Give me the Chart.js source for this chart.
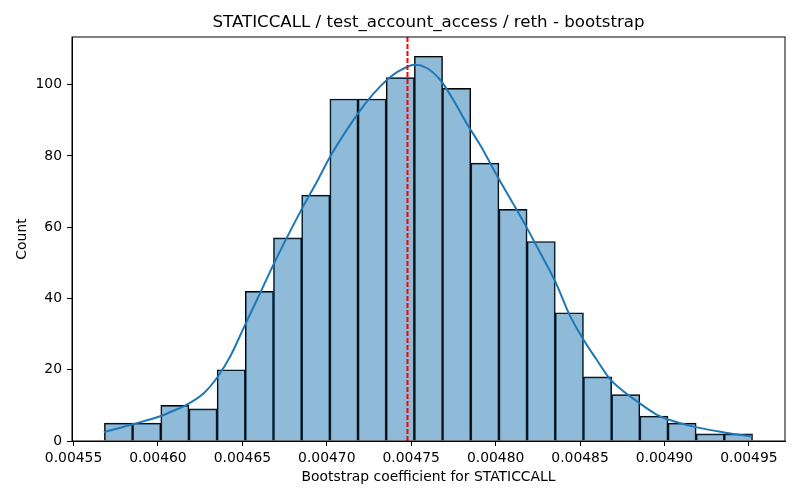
<!DOCTYPE html>
<html>
<head>
<meta charset="utf-8">
<script src="https://cdn.jsdelivr.net/npm/chart.js@4"></script>
<style>
  html, body { margin: 0; padding: 0; background: #fff; }
  #wrap { width: 800px; height: 500px; }
</style>
</head>
<body>
<div id="wrap"><canvas id="myChart"></canvas></div>
<script>
// histogram bins (left edge of first bin + bin width) and counts
const binStart = 0.0045683;
const binWidth = 0.00001669;
const counts = [5, 5, 10, 9, 20, 42, 57, 69, 96, 96, 102, 108, 99, 78, 65, 56, 36, 18, 13, 7, 5, 2, 2];

// kde curve
const kdeX = [0.0045679, 0.0045851, 0.0046018, 0.0046077, 0.0046155, 0.0046273, 0.0046352,
              0.0046431, 0.0046514, 0.0046608, 0.0046687, 0.0046766, 0.0046854, 0.0046952,
              0.0047017, 0.0047198, 0.0047277, 0.0047356, 0.0047434, 0.0047523, 0.0047592,
              0.0047671, 0.0047749, 0.0047828, 0.0047907, 0.0048015, 0.0048103, 0.0048182,
              0.0048261, 0.0048355, 0.0048438, 0.0048516, 0.0048596, 0.0048674, 0.0048753,
              0.0048832, 0.0048950, 0.0049018, 0.0049186, 0.0049353, 0.0049520];
const kdeY = [2.5, 4.7, 7.0, 8.2, 9.8, 13.5, 17.9,
              24.0, 32.4, 41.8, 49.8, 57.3, 65.3, 73.7,
              79.6, 92.8, 97.5, 101.3, 104.0, 105.6, 104.7,
              101.4, 95.8, 89.2, 83.2, 73.9, 66.7, 60.1,
              53.1, 44.6, 35.4, 28.8, 23.0, 17.6, 14.1,
              11.3, 7.5, 6.1, 3.9, 2.4, 1.2];

const meanLine = 0.0047478;

const xTicks = [0.00455, 0.00460, 0.00465, 0.00470, 0.00475, 0.00480, 0.00485, 0.00490, 0.00495];
const xTickLabels = ['0.00455', '0.00460', '0.00465', '0.00470', '0.00475', '0.00480', '0.00485', '0.00490', '0.00495'];
const yTicks = [0, 20, 40, 60, 80, 100];

const xMin = 0.0045491;
const xMax = 0.0049714;
const yMax = 113.4;

const titleText = 'STATICCALL / test_account_access / reth - bootstrap';

document.addEventListener('DOMContentLoaded', function () {
    const ctx = document.getElementById('myChart').getContext('2d');
    const font = { family: 'DejaVu Sans', size: 13.9 };

    const barData = counts.map(function (c, i) {
        return { x: binStart + binWidth * (i + 0.5), y: c };
    });
    const kdeData = kdeX.map(function (x, i) {
        return { x: x, y: kdeY[i] };
    });

    // frame round the plot area + title centred over the axes
    const framePlugin = {
        id: 'frame',
        afterDatasetsDraw: function (chart) {
            const a = chart.chartArea;
            const c = chart.ctx;
            c.save();
            c.strokeStyle = '#000';
            c.lineWidth = 1;
            c.strokeRect(a.left, a.top, a.right - a.left, a.bottom - a.top);
            c.fillStyle = '#000';
            c.font = '16.67px "DejaVu Sans"';
            c.textAlign = 'center';
            c.textBaseline = 'middle';
            c.fillText(titleText, (a.left + a.right) / 2, 23);
            c.restore();
        }
    };

    new Chart(ctx, {
        type: 'bar',
        data: {
            datasets: [{
                type: 'line',
                data: [{ x: meanLine, y: 0 }, { x: meanLine, y: yMax }],
                borderColor: '#ff0000',
                borderWidth: 2,
                borderDash: [5, 2],
                pointRadius: 0,
                order: 0
            }, {
                type: 'line',
                data: kdeData,
                borderColor: '#1f77b4',
                borderWidth: 2,
                pointRadius: 0,
                cubicInterpolationMode: 'monotone',
                order: 1
            }, {
                data: barData,
                backgroundColor: 'rgba(31,119,180,0.5)',
                borderColor: '#000',
                borderWidth: 1,
                barPercentage: 1,
                categoryPercentage: 1,
                order: 2
            }]
        },
        options: {
            responsive: true,
            maintainAspectRatio: false,
            animation: false,
            layout: { padding: { left: 0, right: 15, top: 37, bottom: 0 } },
            scales: {
                x: {
                    type: 'linear',
                    min: xMin,
                    max: xMax,
                    offset: false,
                    grid: { offset: false, drawOnChartArea: false, drawTicks: true, tickLength: 5, color: '#000' },
                    border: { color: '#000' },
                    afterBuildTicks: function (scale) {
                        scale.ticks = xTicks.map(function (v) { return { value: v }; });
                    },
                    afterFit: function (scale) { scale.height = 59; },
                    ticks: {
                        color: '#000',
                        font: font,
                        padding: 4,
                        maxRotation: 0,
                        autoSkip: false,
                        callback: function (val, index) { return xTickLabels[index]; }
                    },
                    title: {
                        display: true,
                        text: 'Bootstrap coefficient for STATICCALL',
                        color: '#000',
                        font: font,
                        padding: { top: 0, bottom: 14 }
                    }
                },
                y: {
                    min: 0,
                    max: yMax,
                    grid: { drawOnChartArea: false, drawTicks: true, tickLength: 5, color: '#000' },
                    border: { color: '#000' },
                    afterBuildTicks: function (scale) {
                        scale.ticks = yTicks.map(function (v) { return { value: v }; });
                    },
                    afterFit: function (scale) { scale.width = 72; },
                    ticks: { color: '#000', font: font, padding: 5 },
                    title: {
                        display: true,
                        text: 'Count',
                        color: '#000',
                        font: font,
                        padding: { top: 14, bottom: 0 }
                    }
                }
            },
            plugins: {
                legend: { display: false },
                tooltip: { enabled: false },
                title: { display: false }
            }
        },
        plugins: [framePlugin]
    });
});
</script>
</body>
</html>
